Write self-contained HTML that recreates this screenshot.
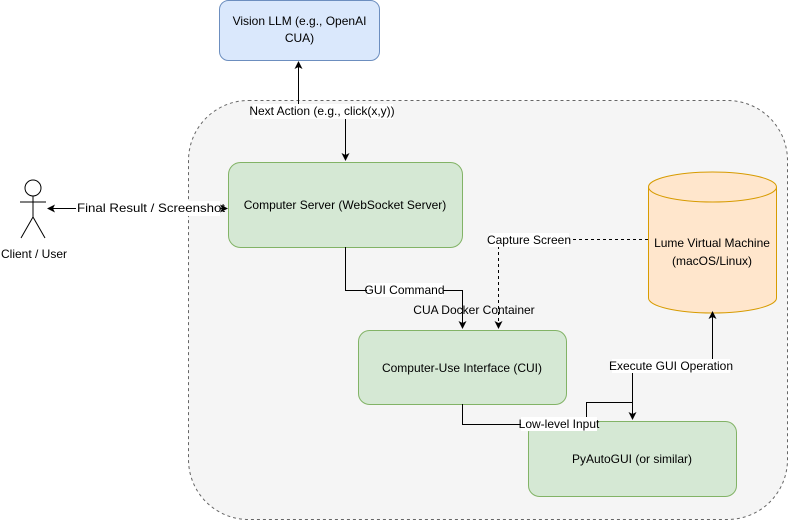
<!DOCTYPE html>
<html><head><meta charset="utf-8"><style>
body{margin:0;background:#fff}
text{font-family:"Liberation Sans",Helvetica,sans-serif;font-size:12px;fill:#000}
</style></head><body>
<svg width="789" height="521" xmlns="http://www.w3.org/2000/svg">
<defs><marker id="a" markerWidth="8" markerHeight="8" refX="7" refY="4" orient="auto" markerUnits="userSpaceOnUse"><path d="M0,0 L8,4 L0,8 L2,4 Z" fill="#000"/></marker></defs>
<rect x="188.5" y="100.5" width="599" height="419" rx="60" fill="#f5f5f5" stroke="#666" stroke-dasharray="3,3"/>
<rect x="219.5" y="0.5" width="160" height="60" rx="9" fill="#dae8fc" stroke="#6c8ebf"/>
<text x="299.5" y="25" text-anchor="middle">Vision LLM (e.g., OpenAI</text>
<text x="299.5" y="42" text-anchor="middle">CUA)</text>
<rect x="228.5" y="162.5" width="234" height="85" rx="12" fill="#d5e8d4" stroke="#82b366"/>
<text x="345" y="209" text-anchor="middle">Computer Server (WebSocket Server)</text>
<rect x="358.5" y="330.5" width="208" height="74" rx="11" fill="#d5e8d4" stroke="#82b366"/>
<text x="462" y="372" text-anchor="middle">Computer-Use Interface (CUI)</text>
<rect x="528.5" y="421.5" width="208" height="75" rx="11" fill="#d5e8d4" stroke="#82b366"/>
<text x="632" y="463" text-anchor="middle">PyAutoGUI (or similar)</text>
<path d="M648.5,187 L648.5,298 A64,15 0 0 0 776.5,298 L776.5,187 A64,15 0 0 0 648.5,187 A64,15 0 0 0 776.5,187" fill="#ffe6cc" stroke="#d79b00"/>
<text x="712" y="247" text-anchor="middle">Lume Virtual Machine</text>
<text x="712" y="265" text-anchor="middle">(macOS/Linux)</text>
<g stroke="#000" fill="none">
<circle cx="33" cy="188" r="8" fill="#fff"/>
<path d="M33,196 V217 M20,202 H46 M33,217 L21,238 M33,217 L45,238"/>
</g>
<text x="34" y="258" text-anchor="middle">Client / User</text>
<g stroke="#000" fill="none">
<path d="M298.5,104 V62" marker-end="url(#a)"/>
<path d="M345.5,118 V160" marker-end="url(#a)"/>
<path d="M76,208.5 H48" marker-end="url(#a)"/>
<path d="M215,208.5 H227" marker-end="url(#a)"/>
<path d="M345.5,247 V290.5 H462.5 V328" marker-end="url(#a)"/>
<path d="M648,239.5 H498.5 V328" stroke-dasharray="3,3" marker-end="url(#a)"/>
<path d="M462.5,404 V424.5 H586.5 V402.5 H632.5 V419" marker-end="url(#a)"/>
<path d="M632.5,372 V402"/>
<path d="M712.5,360 V312" marker-end="url(#a)"/>
</g>
<rect x="76" y="201" width="144" height="15" fill="#fff"/>
<text x="77" y="212" textLength="148" lengthAdjust="spacingAndGlyphs">Final Result / Screenshot</text>
<rect x="253" y="104" width="140" height="15" fill="#fff"/>
<text x="322" y="115" text-anchor="middle">Next Action (e.g., click(x,y))</text>
<rect x="367" y="283" width="76" height="14" fill="#fff"/>
<text x="404.5" y="294" text-anchor="middle">GUI Command</text>
<text x="474" y="314" text-anchor="middle">CUA Docker Container</text>
<rect x="489" y="233" width="80" height="14" fill="#fff"/>
<text x="529" y="244" text-anchor="middle">Capture Screen</text>
<rect x="521" y="417" width="76" height="14" fill="#fff"/>
<text x="559" y="428" text-anchor="middle">Low-level Input</text>
<rect x="612" y="359" width="118" height="14" fill="#fff"/>
<text x="671" y="370" text-anchor="middle">Execute GUI Operation</text>
</svg>
</body></html>
